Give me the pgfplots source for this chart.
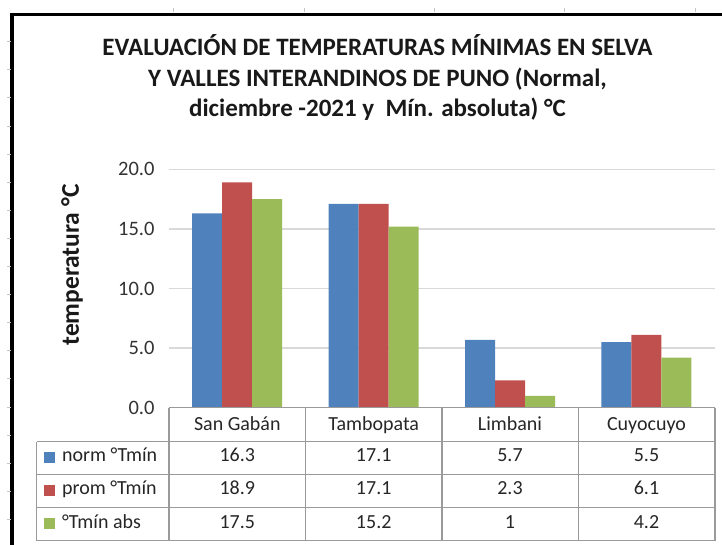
\documentclass[border=0pt]{standalone}
\usepackage{pgfplots}
\pgfplotsset{compat=1.18}
\usepackage{fontspec}
\setmainfont{Carlito}
\definecolor{cblue}{HTML}{4F81BD}
\definecolor{cred}{HTML}{C0504D}
\definecolor{cgreen}{HTML}{9BBB59}
\definecolor{tline}{HTML}{9A9A9A}
\definecolor{gridc}{HTML}{D9D9D9}
\newcommand\tf{\fontsize{20}{24}\selectfont}
\begin{document}
\begin{tikzpicture}
\path[use as bounding box] (0,0) rectangle (722pt,545pt);
\begin{axis}[
  at={(169pt,137.3pt)}, anchor=south west, scale only axis,
  width=545.6pt, height=238.4pt,
  xmin=-0.5, xmax=3.5, ymin=0, ymax=20,
  ybar=0pt, bar width=30pt,
  axis line style={draw=none},
  xtick=\empty, ytick={0,5,10,15,20},
  major tick length=0pt,
  ymajorgrids, grid style={draw=gridc, line width=1.5pt},
  /pgf/number format/assume math mode=true,
  yticklabel style={font=\fontsize{20.5}{24}\selectfont, text=black!80, xshift=-11pt,
    /pgf/number format/fixed, /pgf/number format/fixed zerofill, /pgf/number format/precision=1},
]
\addplot[fill=cblue, draw=none] coordinates {(0,16.3) (1,17.1) (2,5.7) (3,5.5)};
\addplot[fill=cred, draw=none] coordinates {(0,18.9) (1,17.1) (2,2.3) (3,6.1)};
\addplot[fill=cgreen, draw=none] coordinates {(0,17.5) (1,15.2) (2,1.0) (3,4.2)};
\end{axis}
\begin{scope}[x=1pt,y=1pt]
% frame
\draw[line width=3.5pt, black] (12,-5) -- (12,530.7) -- (730,530.7);
\foreach \k in {0,...,17}{\draw[gray!45, line width=0.8pt] (6.5,{503.3-28.1*\k}) -- (10.5,{503.3-28.1*\k});}
\foreach \x in {173,304,434,564,695}{\draw[gray!45, line width=0.8pt] (\x,537) -- (\x,533);}
% title
\node[anchor=base, font=\fontsize{25}{30}\selectfont\bfseries, text=black!90] at (377.5,489) {EVALUACIÓN DE TEMPERATURAS MÍNIMAS EN SELVA};
\node[anchor=base, font=\fontsize{25}{30}\selectfont\bfseries, text=black!90] at (377.5,458.5) {Y VALLES INTERANDINOS DE PUNO (Normal,};
\node[anchor=base, font=\fontsize{25}{30}\selectfont\bfseries, text=black!90] at (377.5,428) {diciembre -2021 y\ \ Mín. absoluta) °C};
% y label
\node[rotate=90, font=\fontsize{25.5}{30}\selectfont\bfseries, text=black!90] at (72,280) {temperatura °C};
% table
\draw[tline, line width=1.5pt] (169,137.3) -- (715,137.3);
\foreach \y in {103.3,70.7,37.3,4.3}{\draw[tline, line width=1.5pt] (36.7,\y) -- (715,\y);}
\draw[tline, line width=1.5pt] (36.7,103.3) -- (36.7,4.3);
\foreach \x in {169,305.5,442,578.5,715}{\draw[tline, line width=1.5pt] (\x,137.3) -- (\x,4.3);}
\foreach \x/\t in {237.3/San Gabán, 373.7/Tambopata, 510/Limbani, 646.5/Cuyocuyo}{\node[anchor=base, font=\tf, text=black!85, inner sep=0pt] at (\x,114.5) {\t};}
\foreach \x/\t in {237.3/16.3, 373.7/17.1, 510/5.7, 646.5/5.5}{\node[anchor=base, font=\tf, text=black!85, inner sep=0pt] at (\x,83) {\t};}
\foreach \x/\t in {237.3/18.9, 373.7/17.1, 510/2.3, 646.5/6.1}{\node[anchor=base, font=\tf, text=black!85, inner sep=0pt] at (\x,50) {\t};}
\foreach \x/\t in {237.3/17.5, 373.7/15.2, 510/1, 646.5/4.2}{\node[anchor=base, font=\tf, text=black!85, inner sep=0pt] at (\x,16.7) {\t};}
% legend keys
\fill[cblue] (44,82) rectangle (55,93);
\fill[cred] (44,49) rectangle (55,60);
\fill[cgreen] (44,16) rectangle (55,27);
\node[anchor=base west, font=\tf, text=black!85, inner sep=0pt] at (62,83) {norm °Tmín};
\node[anchor=base west, font=\tf, text=black!85, inner sep=0pt] at (62,50) {prom °Tmín};
\node[anchor=base west, font=\tf, text=black!85, inner sep=0pt] at (62,16.7) {°Tmín abs};
\end{scope}
\end{tikzpicture}
\end{document}
